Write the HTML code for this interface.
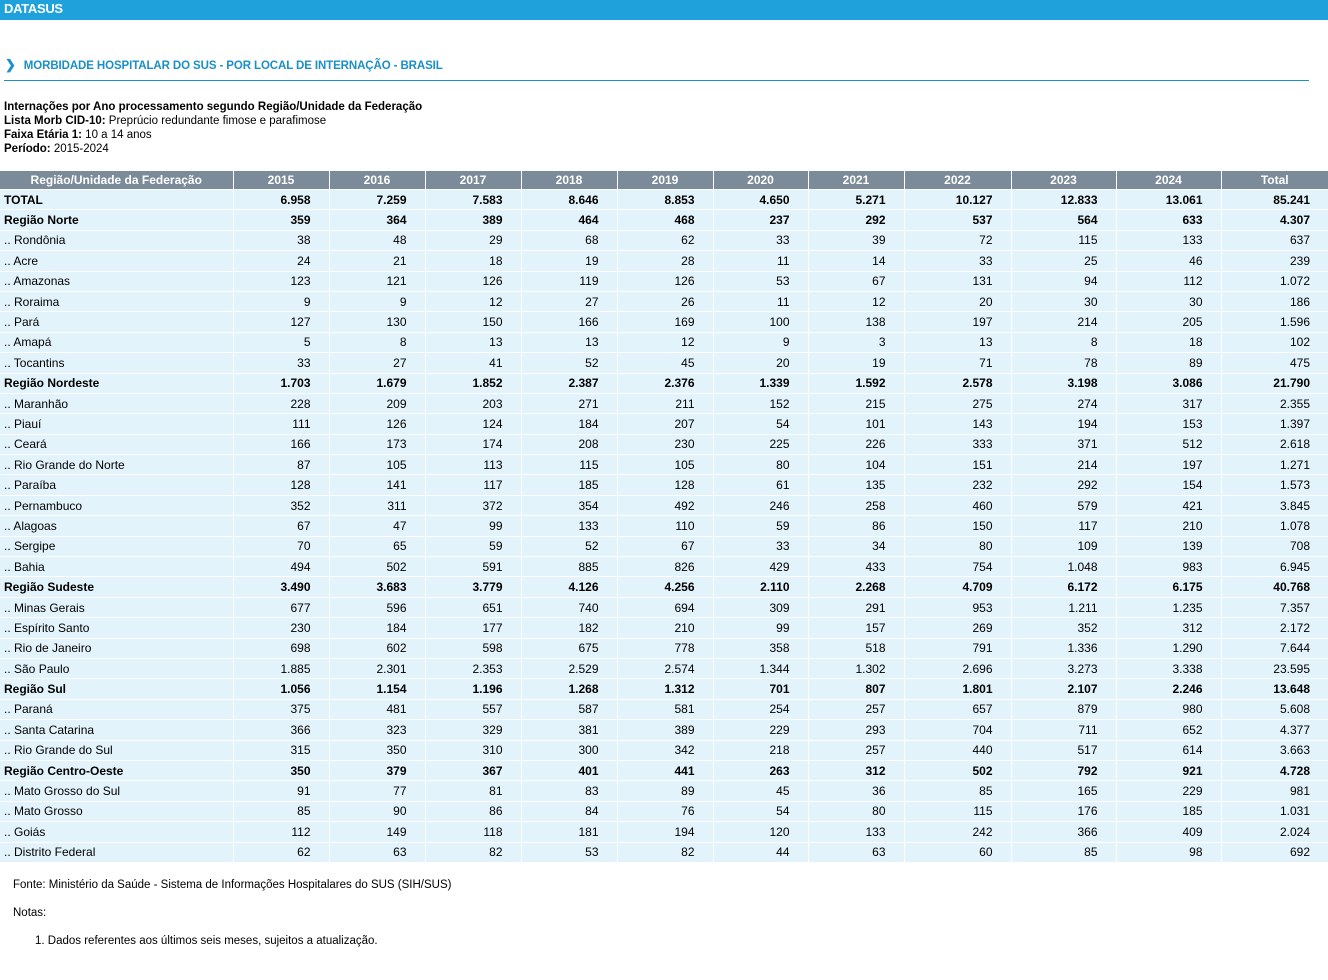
<!DOCTYPE html>
<html><head><meta charset="utf-8">
<style>
body{margin:0;width:1328px;height:980px;background:#fff;font-family:"Liberation Sans",sans-serif;font-size:12px;color:#000;position:relative;overflow:hidden}
#bar{position:absolute;left:0;top:0;width:1328px;height:20px;background:#1fa1dc;color:#fff;font-weight:bold;font-size:13px;line-height:17px;padding-left:4px;box-sizing:border-box;letter-spacing:-0.3px}
#title{position:absolute;left:5px;top:57px;color:#1a8fc8;font-weight:bold;font-size:11.5px;letter-spacing:-0.1px}
#title span{font-size:13px;margin-right:8px}
#rule{position:absolute;left:4px;top:80px;width:1305px;height:1px;background:#1a8fc8}
#info{position:absolute;left:4px;top:100px;line-height:14px;font-size:11.5px}
table{position:absolute;left:0;top:171px;border-collapse:collapse;table-layout:fixed;width:1328px}
th{background:#7b8b99;color:#fff;font-weight:bold;height:18px;padding:0;border-left:1px solid #fff;font-size:12px}
th:first-child{border-left:none}
td{background:#e3f3fb;height:19.4px;padding:0 18px 0 4px;border-top:1px solid #fff;border-left:1px solid #fff;text-align:right;white-space:nowrap;font-size:12px}
td:first-child{text-align:left;border-left:none}
tr.b td{font-weight:bold}
#foot{position:absolute;left:13px;top:878px;font-size:11.5px;line-height:14px}
</style></head><body>
<div id="bar">DATASUS</div>
<div id="title"><span>&#10095;</span>MORBIDADE HOSPITALAR DO SUS - POR LOCAL DE INTERNAÇÃO - BRASIL</div>
<div id="rule"></div>
<div id="info">
<b>Internações por Ano processamento segundo Região/Unidade da Federação</b><br>
<b>Lista Morb CID-10:</b> Preprúcio redundante fimose e parafimose<br>
<b>Faixa Etária 1:</b> 10 a 14 anos<br>
<b>Período:</b> 2015-2024</div>
<table id="t">
<colgroup><col style="width:233px"><col style="width:96px"><col style="width:96px"><col style="width:96px"><col style="width:96px"><col style="width:96px"><col style="width:95px"><col style="width:96px"><col style="width:107px"><col style="width:105px"><col style="width:105px"><col style="width:107px"></colgroup>
<thead><tr id="hr"></tr></thead><tbody id="tb"></tbody></table>
<div id="foot">Fonte: Ministério da Saúde - Sistema de Informações Hospitalares do SUS (SIH/SUS)<br><br>Notas:<br><br><span style="padding-left:22px">1. Dados referentes aos últimos seis meses, sujeitos a atualização.</span></div>
<script>
const headers=["Região/Unidade da Federação","2015","2016","2017","2018","2019","2020","2021","2022","2023","2024","Total"];
const rowNames=["TOTAL","Região Norte",".. Rondônia",".. Acre",".. Amazonas",".. Roraima",".. Pará",".. Amapá",".. Tocantins","Região Nordeste",".. Maranhão",".. Piauí",".. Ceará",".. Rio Grande do Norte",".. Paraíba",".. Pernambuco",".. Alagoas",".. Sergipe",".. Bahia","Região Sudeste",".. Minas Gerais",".. Espírito Santo",".. Rio de Janeiro",".. São Paulo","Região Sul",".. Paraná",".. Santa Catarina",".. Rio Grande do Sul","Região Centro-Oeste",".. Mato Grosso do Sul",".. Mato Grosso",".. Goiás",".. Distrito Federal"];
const rowValues=[
["6.958","7.259","7.583","8.646","8.853","4.650","5.271","10.127","12.833","13.061","85.241"],
["359","364","389","464","468","237","292","537","564","633","4.307"],
["38","48","29","68","62","33","39","72","115","133","637"],
["24","21","18","19","28","11","14","33","25","46","239"],
["123","121","126","119","126","53","67","131","94","112","1.072"],
["9","9","12","27","26","11","12","20","30","30","186"],
["127","130","150","166","169","100","138","197","214","205","1.596"],
["5","8","13","13","12","9","3","13","8","18","102"],
["33","27","41","52","45","20","19","71","78","89","475"],
["1.703","1.679","1.852","2.387","2.376","1.339","1.592","2.578","3.198","3.086","21.790"],
["228","209","203","271","211","152","215","275","274","317","2.355"],
["111","126","124","184","207","54","101","143","194","153","1.397"],
["166","173","174","208","230","225","226","333","371","512","2.618"],
["87","105","113","115","105","80","104","151","214","197","1.271"],
["128","141","117","185","128","61","135","232","292","154","1.573"],
["352","311","372","354","492","246","258","460","579","421","3.845"],
["67","47","99","133","110","59","86","150","117","210","1.078"],
["70","65","59","52","67","33","34","80","109","139","708"],
["494","502","591","885","826","429","433","754","1.048","983","6.945"],
["3.490","3.683","3.779","4.126","4.256","2.110","2.268","4.709","6.172","6.175","40.768"],
["677","596","651","740","694","309","291","953","1.211","1.235","7.357"],
["230","184","177","182","210","99","157","269","352","312","2.172"],
["698","602","598","675","778","358","518","791","1.336","1.290","7.644"],
["1.885","2.301","2.353","2.529","2.574","1.344","1.302","2.696","3.273","3.338","23.595"],
["1.056","1.154","1.196","1.268","1.312","701","807","1.801","2.107","2.246","13.648"],
["375","481","557","587","581","254","257","657","879","980","5.608"],
["366","323","329","381","389","229","293","704","711","652","4.377"],
["315","350","310","300","342","218","257","440","517","614","3.663"],
["350","379","367","401","441","263","312","502","792","921","4.728"],
["91","77","81","83","89","45","36","85","165","229","981"],
["85","90","86","84","76","54","80","115","176","185","1.031"],
["112","149","118","181","194","120","133","242","366","409","2.024"],
["62","63","82","53","82","44","63","60","85","98","692"]];
const hr=document.getElementById('hr');
headers.forEach(h=>{const th=document.createElement('th');th.textContent=h;


hr.appendChild(th);});
const tb=document.getElementById('tb');
rowNames.forEach((n,i)=>{const tr=document.createElement('tr');
if(!n.startsWith('..'))tr.className='b';


[n].concat(rowValues[i]).forEach(v=>{const td=document.createElement('td');td.textContent=v;


tr.appendChild(td);});
tb.appendChild(tr);});
</script>
</body></html>
